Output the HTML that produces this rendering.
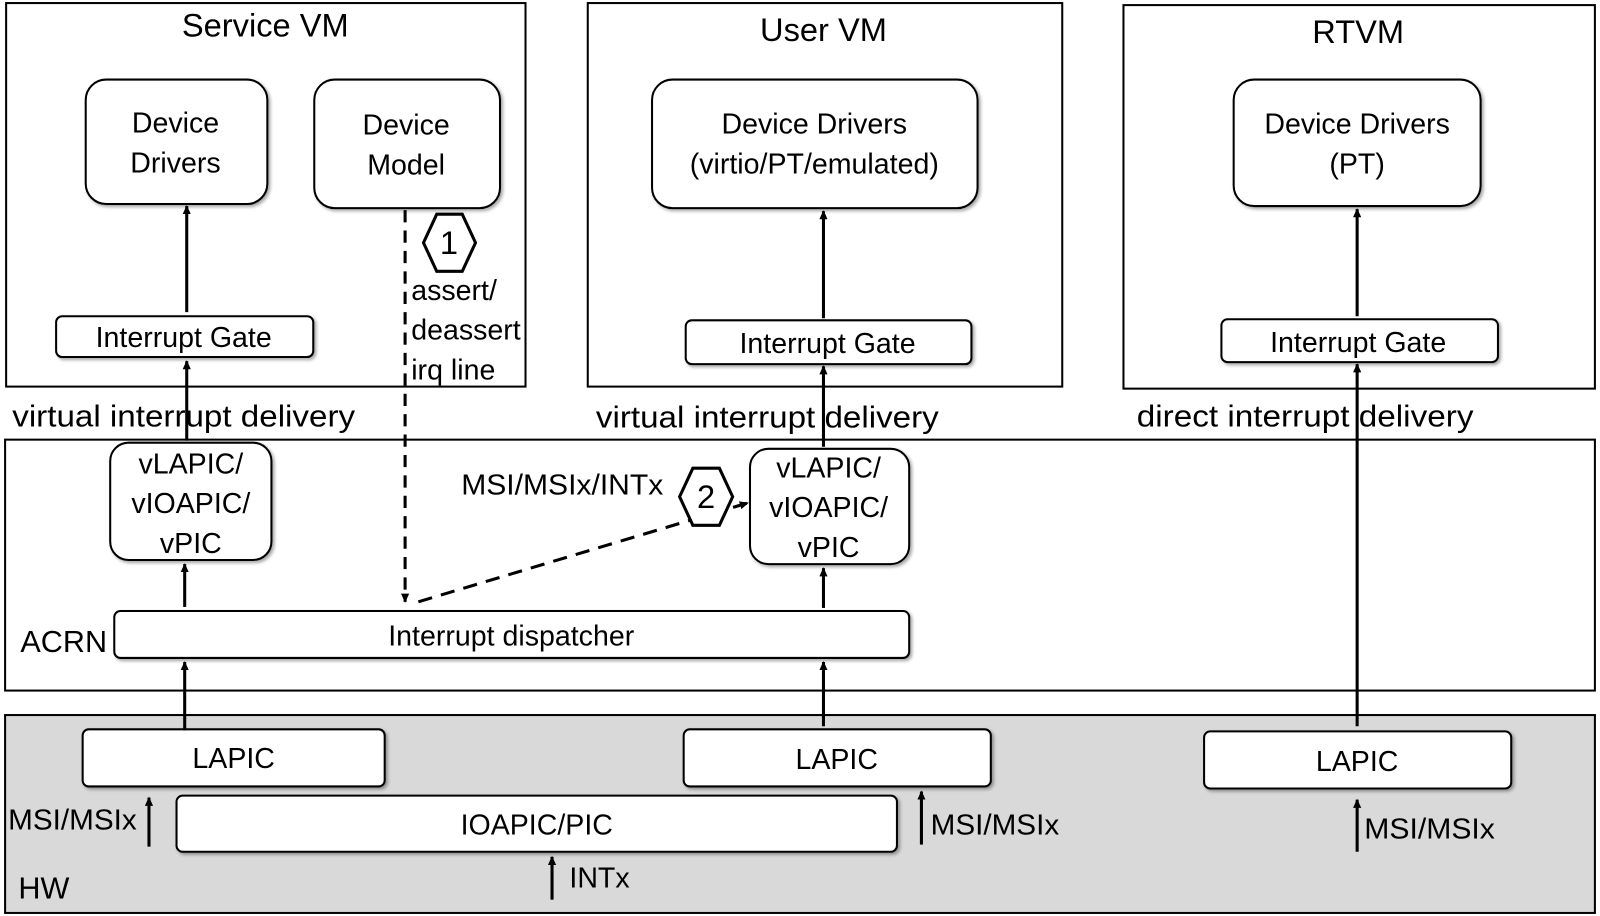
<!DOCTYPE html>
<html><head><meta charset="utf-8"><style>
html,body{margin:0;padding:0;background:#fff;width:1600px;height:916px;overflow:hidden}
svg{display:block}
text{font-family:"Liberation Sans",sans-serif;font-size:28px;fill:#000}
.t{font-size:32px}
.l{font-size:30px}
</style></head><body>
<svg width="1600" height="916" viewBox="0 0 1568 898" preserveAspectRatio="none" xmlns="http://www.w3.org/2000/svg">
<defs>
<marker id="a" markerWidth="10" markerHeight="10" refX="8" refY="5" orient="auto" markerUnits="userSpaceOnUse">
<path d="M0,1 L9,5 L0,9 z" fill="#000"/></marker>
<filter id="s" x="-5%" y="-5%" width="115%" height="120%"><feDropShadow dx="2" dy="2" stdDeviation="1.5" flood-opacity="0.35"/></filter>
</defs>
<g fill="none" stroke="#000" stroke-width="2">
<rect x="6" y="3" width="509" height="376"/>
<rect x="576" y="3" width="465" height="376"/>
<rect x="1101" y="5" width="462" height="376"/>
<rect x="5" y="431" width="1558" height="246"/>
<rect x="5" y="701" width="1558" height="194" fill="#d9d9d9"/>
</g>
<g fill="#fff" stroke="#000" stroke-width="2" filter="url(#s)">
<rect x="84" y="78" width="178" height="122" rx="20"/>
<rect x="308" y="78" width="182" height="126" rx="20"/>
<rect x="55" y="310" width="252" height="40" rx="6"/>
<rect x="639" y="78" width="319" height="126" rx="20"/>
<rect x="672" y="314" width="280" height="43" rx="6"/>
<rect x="1209" y="78" width="242" height="124" rx="20"/>
<rect x="1197" y="313" width="271" height="42" rx="6"/>
<rect x="108" y="434" width="158" height="115" rx="18"/>
<rect x="735" y="440" width="156" height="113" rx="18"/>
<rect x="112" y="599" width="779" height="46" rx="6"/>
<rect x="81" y="715" width="296" height="56" rx="6"/>
<rect x="670" y="715" width="301" height="56" rx="6"/>
<rect x="1180" y="717" width="301" height="56" rx="6"/>
<rect x="173" y="780" width="706" height="55" rx="6"/>
</g>
<g stroke="#000" stroke-width="3" marker-end="url(#a)">
<line x1="183" y1="306" x2="183" y2="202"/>
<line x1="183" y1="432" x2="183" y2="354"/>
<line x1="181" y1="595" x2="181" y2="553"/>
<line x1="181" y1="716" x2="181" y2="649"/>
<line x1="807" y1="712" x2="807" y2="649"/>
<line x1="807" y1="596" x2="807" y2="557"/>
<line x1="807" y1="438" x2="807" y2="359"/>
<line x1="807" y1="312" x2="807" y2="207"/>
<line x1="1330" y1="712" x2="1330" y2="357"/>
<line x1="1330" y1="310" x2="1330" y2="205"/>
<line x1="146" y1="830" x2="146" y2="782"/>
<line x1="903" y1="828" x2="903" y2="776"/>
<line x1="541" y1="882" x2="541" y2="840"/>
<line x1="1330" y1="835" x2="1330" y2="784"/>
<line x1="397" y1="206" x2="397" y2="590" stroke-dasharray="12,8"/>
<line x1="410" y1="590" x2="733" y2="493" stroke-dasharray="14,9"/>
</g>
<g fill="#fff" stroke="#000" stroke-width="3">
<polygon points="415,238 428,210 453,210 466,238 453,266 428,266"/>
<polygon points="666,487 679,459 705,459 718,487 705,515 679,515"/>
</g>
<g text-anchor="middle">
<text class="t" x="260" y="36">Service  VM</text>
<text class="t" x="807" y="40">User VM</text>
<text class="t" x="1331" y="42">RTVM</text>
<text x="172" y="130">Device</text><text x="172" y="169">Drivers</text>
<text x="398" y="132">Device</text><text x="398" y="171">Model</text>
<text x="798" y="131">Device Drivers</text><text x="798" y="170">(virtio/PT/emulated)</text>
<text x="1330" y="131">Device Drivers</text><text x="1330" y="170">(PT)</text>
<text x="180" y="340">Interrupt Gate</text>
<text x="811" y="346">Interrupt Gate</text>
<text x="1331" y="345">Interrupt Gate</text>
<text x="187" y="464">vLAPIC/</text><text x="187" y="503">vIOAPIC/</text><text x="187" y="542">vPIC</text>
<text x="812" y="468">vLAPIC/</text><text x="812" y="507">vIOAPIC/</text><text x="812" y="546">vPIC</text>
<text x="501" y="633">Interrupt dispatcher</text>
<text x="229" y="753">LAPIC</text>
<text x="820" y="754">LAPIC</text>
<text x="1330" y="756">LAPIC</text>
<text x="526" y="818">IOAPIC/PIC</text>
<text class="t" x="440" y="249">1</text>
<text class="t" x="692" y="498">2</text>
</g>
<text x="403" y="294">assert/</text>
<text x="403" y="333">deassert</text>
<text x="403" y="372">irq line</text>
<text class="l" x="12" y="418" textLength="336" lengthAdjust="spacingAndGlyphs">virtual interrupt delivery</text>
<text class="l" x="584" y="419" textLength="336" lengthAdjust="spacingAndGlyphs">virtual interrupt delivery</text>
<text class="l" x="1114" y="418" textLength="330" lengthAdjust="spacingAndGlyphs">direct interrupt delivery</text>
<text x="452" y="485" textLength="198" lengthAdjust="spacingAndGlyphs">MSI/MSIx/INTx</text>
<text class="l" x="20" y="639">ACRN</text>
<text x="8" y="813" textLength="126" lengthAdjust="spacingAndGlyphs">MSI/MSIx</text>
<text x="912" y="818" textLength="126" lengthAdjust="spacingAndGlyphs">MSI/MSIx</text>
<text x="1337" y="822" textLength="128" lengthAdjust="spacingAndGlyphs">MSI/MSIx</text>
<text x="558" y="870">INTx</text>
<text class="l" x="18" y="881">HW</text>
</svg>
</body></html>
